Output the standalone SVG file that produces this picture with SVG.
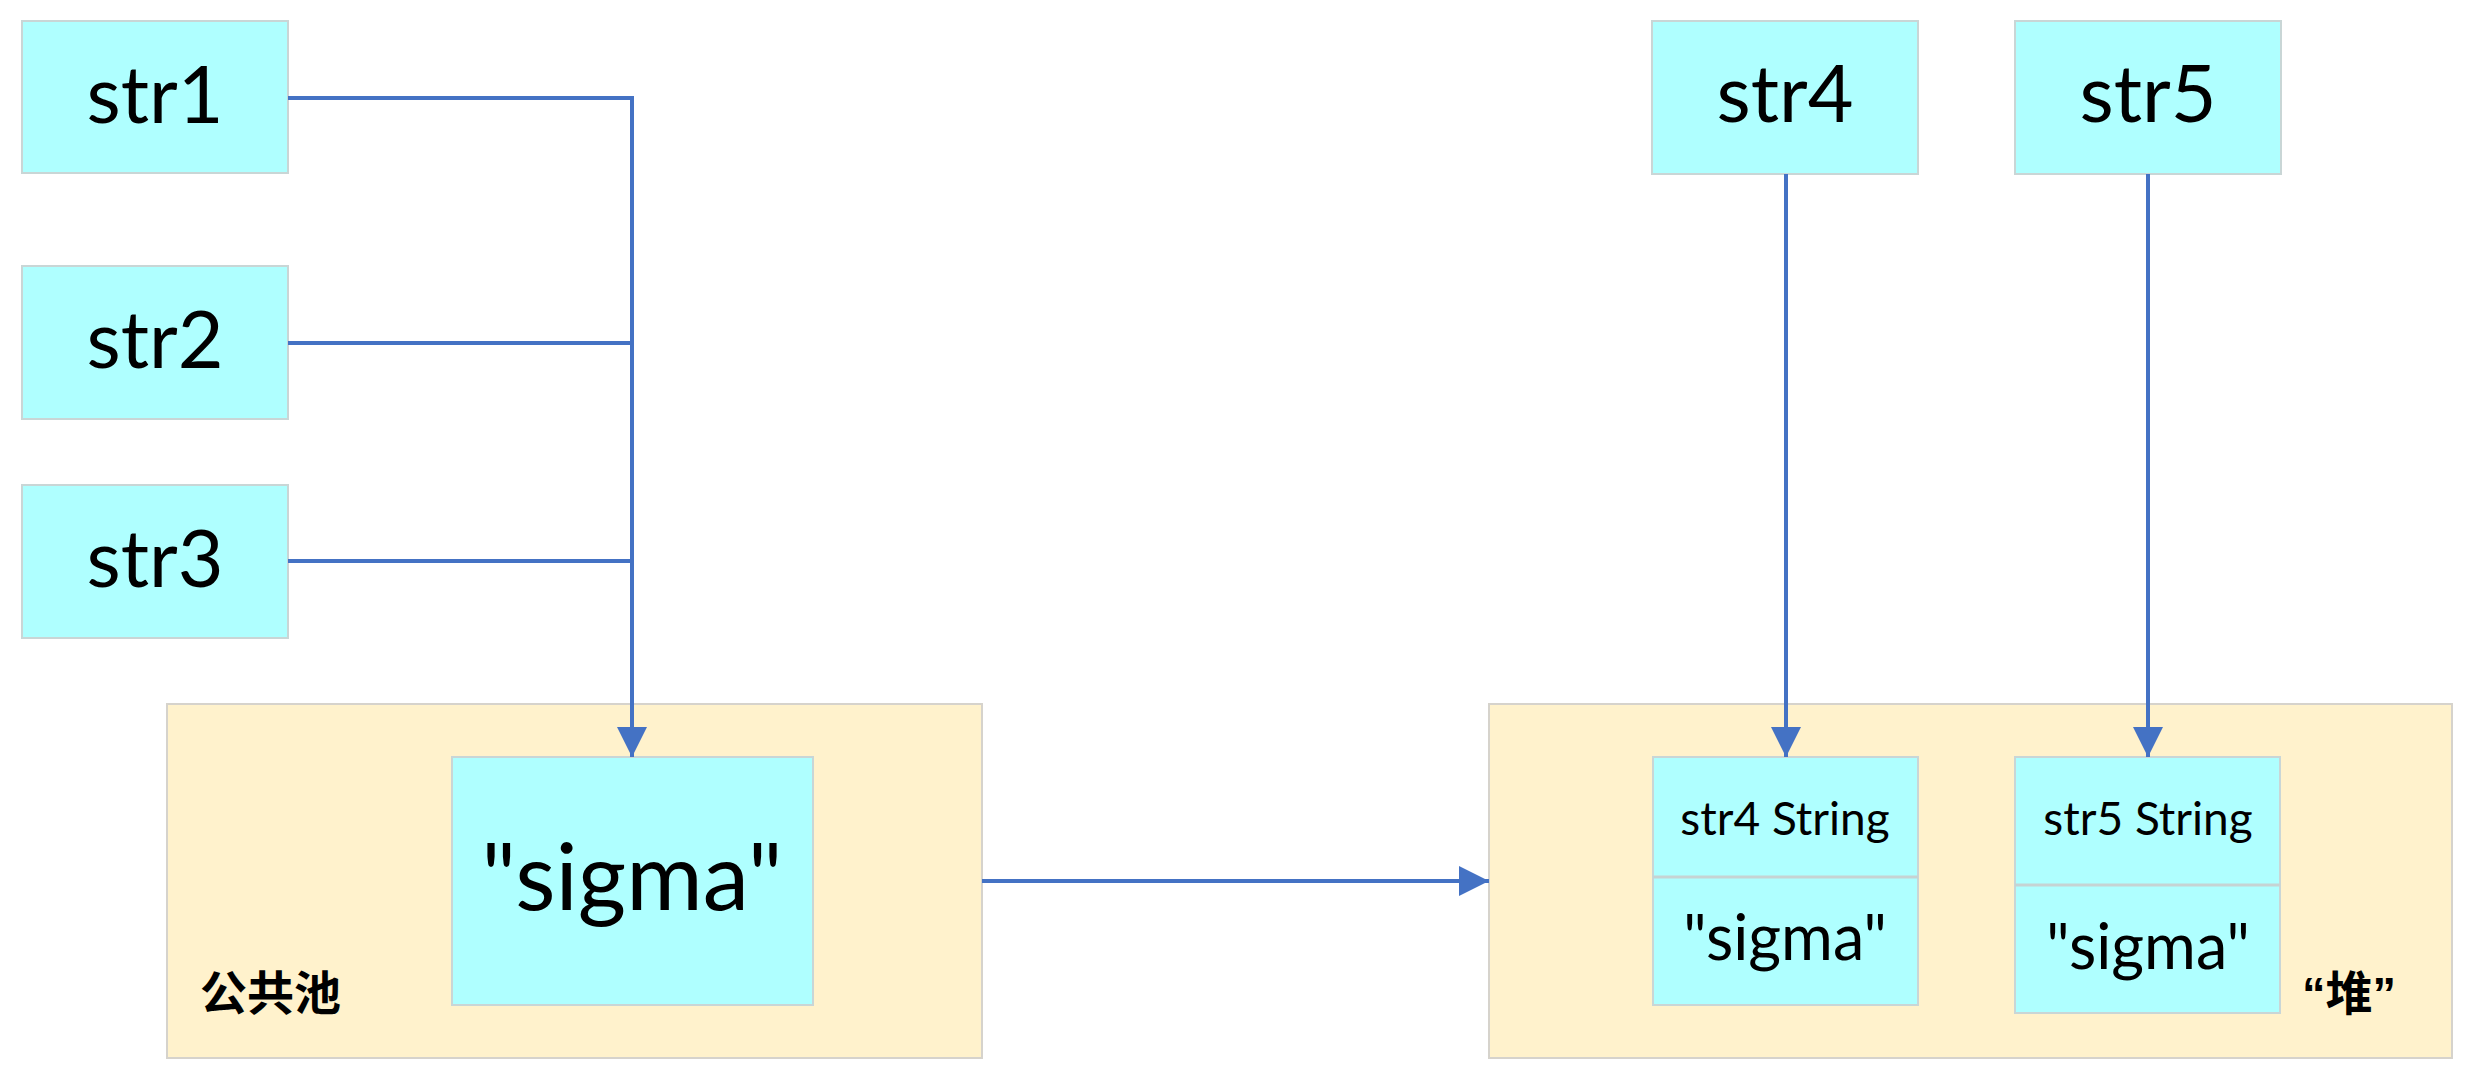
<svg xmlns="http://www.w3.org/2000/svg" width="2475" height="1081" viewBox="0 0 2475 1081">
<style>
.bg{fill:#ffffff}
.box{fill:#afffff;stroke:#c9d6d6;stroke-width:2}
.area{fill:#fff2cc;stroke:#d6d3cc;stroke-width:2}
.div{stroke:#c6d3d3;stroke-width:3}
.t{font-family:Lato,"Open Sans",sans-serif;fill:#000;text-anchor:middle}
.big{font-size:79px}
.huge{font-size:93px}
.mid{font-size:46px}
.val{font-size:63px}
.cjk{font-family:"Liberation Sans","Noto Sans CJK SC",sans-serif;font-weight:bold;font-size:47px;fill:#000}
.c{fill:none;stroke:#4472c4;stroke-width:4}
</style>
<defs>
<marker id="ah" viewBox="0 0 10 10" refX="10" refY="5" markerUnits="userSpaceOnUse" markerWidth="30" markerHeight="30" orient="auto">
<path d="M0,0 L10,5 L0,10 z" fill="#4472c4"/>
</marker>
</defs>
<rect class="bg" x="0" y="0" width="2475" height="1081"/>
<g id="pool">
<rect class="area" x="167" y="704" width="815" height="354"/>
<text class="cjk" x="200" y="1010">公共池</text>
</g>
<g id="heap">
<rect class="area" x="1489" y="704" width="963" height="354"/>
<text class="cjk" x="2302" y="1010">“堆”</text>
</g>
<g id="str1">
<rect class="box" x="22" y="21" width="266" height="152"/>
<text class="t big" x="155" y="123">str1</text>
</g>
<g id="str2">
<rect class="box" x="22" y="266" width="266" height="153"/>
<text class="t big" x="155" y="368">str2</text>
</g>
<g id="str3">
<rect class="box" x="22" y="485" width="266" height="153"/>
<text class="t big" x="155" y="587">str3</text>
</g>
<g id="str4">
<rect class="box" x="1652" y="21" width="266" height="153"/>
<text class="t big" x="1785" y="122">str4</text>
</g>
<g id="str5">
<rect class="box" x="2015" y="21" width="266" height="153"/>
<text class="t big" x="2148" y="122">str5</text>
</g>
<g id="sigma-pool">
<rect class="box" x="452" y="757" width="361" height="248"/>
<text class="t huge" x="632" y="910">"sigma"</text>
</g>
<g id="str4-obj">
<rect class="box" x="1653" y="757" width="265" height="248"/>
<line class="div" x1="1653" y1="877" x2="1918" y2="877"/>
<text class="t mid" x="1785" y="835">str4 String</text>
<text class="t val" x="1785" y="960">"sigma"</text>
</g>
<g id="str5-obj">
<rect class="box" x="2015" y="757" width="265" height="256"/>
<line class="div" x1="2015" y1="885" x2="2280" y2="885"/>
<text class="t mid" x="2148" y="835">str5 String</text>
<text class="t val" x="2148" y="969">"sigma"</text>
</g>
<g id="connectors">
<polyline class="c" points="288,98 632,98 632,757" marker-end="url(#ah)"/>
<line class="c" x1="288" y1="343" x2="632" y2="343"/>
<line class="c" x1="288" y1="561" x2="632" y2="561"/>
<line class="c" x1="982" y1="881" x2="1489" y2="881" marker-end="url(#ah)"/>
<line class="c" x1="1786" y1="174" x2="1786" y2="757" marker-end="url(#ah)"/>
<line class="c" x1="2148" y1="174" x2="2148" y2="757" marker-end="url(#ah)"/>
</g>
</svg>
